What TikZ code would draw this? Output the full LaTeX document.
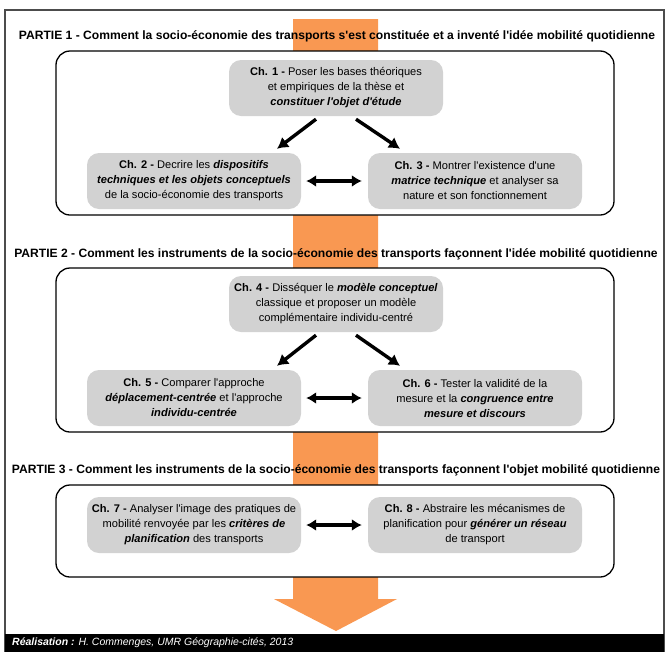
\documentclass[tikz,border=0pt]{standalone}
\usepackage{fontspec}
\setmainfont{Liberation Sans}[Ligatures=TeXOff]
\usetikzlibrary{arrows.meta,positioning}
\definecolor{orangeband}{RGB}{249,152,82}
\definecolor{chgray}{RGB}{210,210,210}
\begin{document}
\begin{tikzpicture}[x=1pt,y=-1pt,
	chbox/.style={fill=chgray, rounded corners=12pt, align=center, inner sep=0pt,
		minimum width=214pt, minimum height=56pt,
		font=\fontsize{11.1}{15}\selectfont},
	partbox/.style={draw, fill=white, line width=1.3pt, rounded corners=14pt,
		minimum width=558pt, inner sep=0pt},
	parttitle/.style={font=\fontsize{12.1}{14}\selectfont\bfseries, inner sep=0pt},
	bigarrow/.style={-{Latex[length=11pt,width=13pt]}, line width=3.4pt},
	duoarrow/.style={{Latex[length=10pt,width=12pt]}-{Latex[length=10pt,width=12pt]}, line width=3.4pt}]
	\clip (0,0) rectangle (669,651);
	\fill[white] (0,0) rectangle (669,651);
	\draw[line width=1.5pt, black!70] (5,10) rectangle (664,660);
	\fill[orangeband] (293,19) -- (378,19) -- (378,599) -- (397,599) -- (336,631)
		-- (274,599) -- (293,599) -- cycle;
	\node[parttitle] (t1) at (337,36) {PARTIE 1 - Comment la socio-économie des transports s'est constituée et a inventé l'idée mobilité quotidienne};
	\node[partbox, minimum height=164pt] (p1) at (335,133) {};
	\node[chbox] (c1) at (336,88) {\textbf{Ch. 1 -} Poser les bases théoriques\\et empiriques de la thèse et\\\textbf{\textit{constituer l'objet d'étude}}};
	\node[chbox] (c2) at (194,181) {\textbf{Ch. 2 -} Decrire les \textbf{\textit{dispositifs}}\\\textbf{\textit{techniques et les objets conceptuels}}\\de la socio-économie des transports};
	\node[chbox] (c3) at (475,181) {\textbf{Ch. 3 -} Montrer l'existence d'une\\\textbf{\textit{matrice technique}} et analyser sa\\nature et son fonctionnement};
	\draw[bigarrow] ([xshift=-20pt,yshift=-3pt]c1.south) -- ([xshift=83pt,yshift=4pt]c2.north);
	\draw[bigarrow] ([xshift=20pt,yshift=-3pt]c1.south) -- ([xshift=-75pt,yshift=4pt]c3.north);
	\draw[duoarrow] ([xshift=5pt]c2.east) -- ([xshift=-6pt]c3.west);
	\node[parttitle] (t2) at (336,254) {PARTIE 2 - Comment les instruments de la socio-économie des transports façonnent l'idée mobilité quotidienne};
	\node[partbox, minimum height=164pt] (p2) at (335,350) {};
	\node[chbox] (c4) at (336,304) {\textbf{Ch. 4 -} Disséquer le \textbf{\textit{modèle conceptuel}}\\classique et proposer un modèle\\complémentaire individu-centré};
	\node[chbox] (c5) at (194,398) {\textbf{Ch. 5 -} Comparer l'approche\\\textbf{\textit{déplacement-centrée}} et l'approche\\\textbf{\textit{individu-centrée}}};
	\node[chbox] (c6) at (475,398) {\textbf{Ch. 6 -} Tester la validité de la\\mesure et la \textbf{\textit{congruence entre}}\\\textbf{\textit{mesure et discours}}};
	\draw[bigarrow] ([xshift=-20pt,yshift=-3pt]c4.south) -- ([xshift=83pt,yshift=4pt]c5.north);
	\draw[bigarrow] ([xshift=20pt,yshift=-3pt]c4.south) -- ([xshift=-75pt,yshift=4pt]c6.north);
	\draw[duoarrow] ([xshift=5pt]c5.east) -- ([xshift=-6pt]c6.west);
	\node[parttitle] (t3) at (336,470) {PARTIE 3 - Comment les instruments de la socio-économie des transports façonnent l'objet mobilité quotidienne};
	\node[partbox, minimum height=92pt] (p3) at (335,531) {};
	\node[chbox] (c7) at (194,525) {\textbf{Ch. 7 -} Analyser l'image des pratiques de\\mobilité renvoyée par les \textbf{\textit{critères de}}\\\textbf{\textit{planification}} des transports};
	\node[chbox] (c8) at (475,525) {\textbf{Ch. 8 -} Abstraire les mécanismes de\\planification pour \textbf{\textit{générer un réseau}}\\de transport};
	\draw[duoarrow] ([xshift=5pt]c7.east) -- ([xshift=-6pt]c8.west);
	\fill[black] (5,634) rectangle (664,660);
	\node[anchor=west, text=white, font=\fontsize{10.5}{12}\selectfont\itshape, inner sep=0pt] (credit) at (12,643) {\textbf{Réalisation :} H. Commenges, UMR Géographie-cités, 2013};
\end{tikzpicture}
\end{document}
